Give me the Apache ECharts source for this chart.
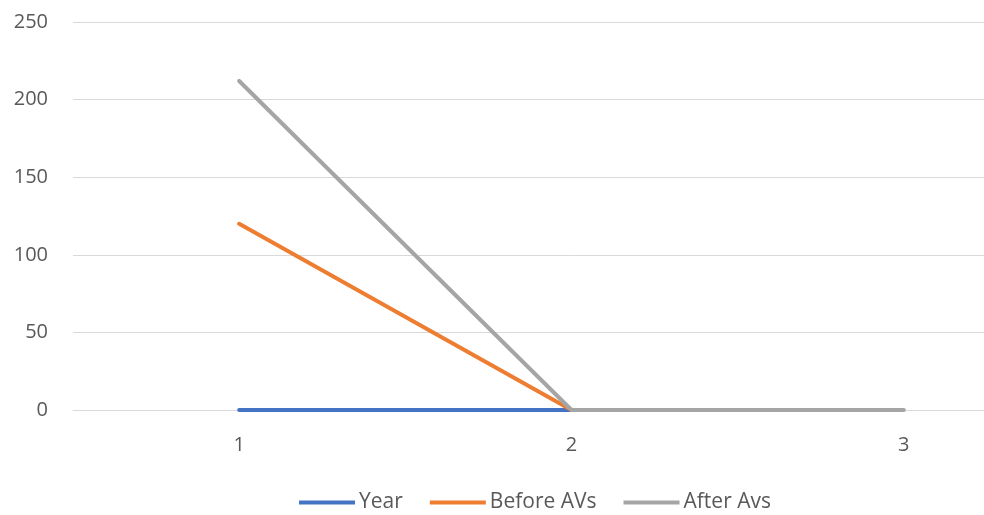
<!DOCTYPE html>
<html><head><meta charset="utf-8">
<script src="https://cdn.jsdelivr.net/npm/echarts@6/dist/echarts.min.js"></script>
<style>html,body{margin:0;padding:0;background:#fff;overflow:hidden;width:984px;height:515px}#c{width:1070px;height:515px}</style>
</head><body><div id="c"></div>
<script>
const categories = ['1', '2', '3'];
const yearValues = [0, 0];
const beforeAVs = [120, 0];
const afterAvs = [212, 0, 0];
const seriesNames = ['Year', 'Before AVs', 'After Avs'];
const colors = ['#4472C4', '#ED7D31', '#A5A5A5'];

const chart = echarts.init(document.getElementById('c'));
const font = '"Open Sans", "Noto Sans", sans-serif';
function mk(name, data, color) {
  return { name, type: 'line', data, symbol: 'none', lineStyle: { width: 4, color, cap: 'round' }, itemStyle: { color } };
}
chart.setOption({
  animation: false,
  color: colors,
  grid: { left: 73, right: 0, top: 22, bottom: 105, containLabel: false },
  legend: {
    bottom: -3, left: 'center',
    itemWidth: 56, itemHeight: 4, itemGap: 27,
    icon: 'rect',
    textStyle: { color: '#595959', fontSize: 21, fontFamily: font, padding: [0, 0, 0, -1] },
    data: seriesNames
  },
  xAxis: {
    type: 'category', data: categories, boundaryGap: true,
    axisLine: { lineStyle: { color: '#D9D9D9', width: 1 } },
    axisTick: { show: false },
    axisLabel: { color: '#595959', fontSize: 20, fontFamily: font, margin: 25 }
  },
  yAxis: {
    type: 'value', min: 0, max: 250, interval: 50,
    axisLine: { show: false }, axisTick: { show: false },
    splitLine: { lineStyle: { color: '#D9D9D9', width: 1 } },
    axisLabel: { color: '#595959', fontSize: 20, fontFamily: font, margin: 25 }
  },
  series: [
    mk(seriesNames[0], yearValues, colors[0]),
    mk(seriesNames[1], beforeAVs, colors[1]),
    mk(seriesNames[2], afterAvs, colors[2])
  ]
});
</script></body></html>
